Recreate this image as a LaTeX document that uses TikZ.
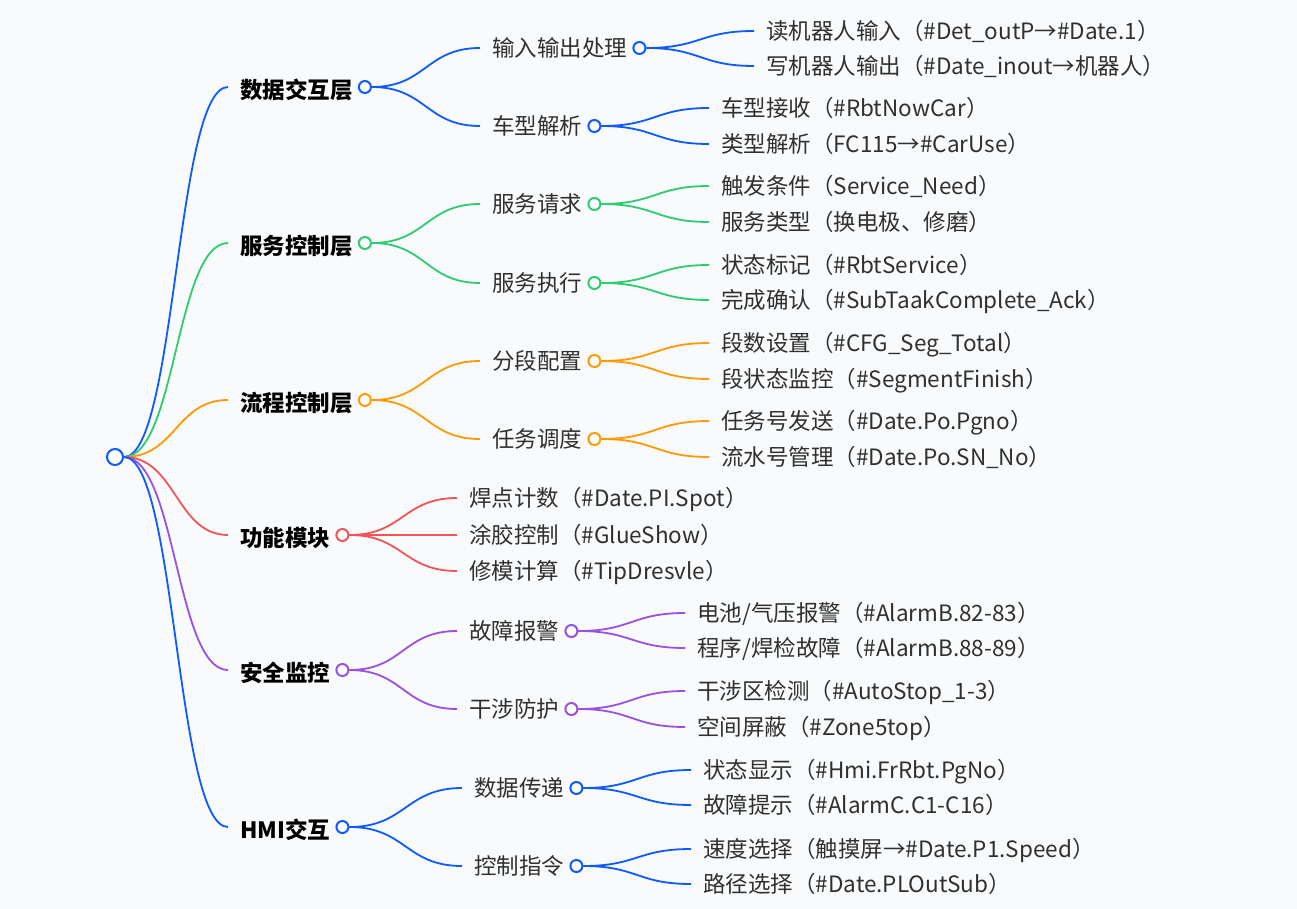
\documentclass[tikz,border=0pt]{standalone}
\usepackage{fontspec}
\setmainfont{Noto Sans CJK SC}
\usepackage{tikz}
\usetikzlibrary{calc}

\definecolor{mblue}{HTML}{0D5BFF}
\definecolor{mgreen}{HTML}{2ECC71}
\definecolor{morange}{HTML}{FF9A05}
\definecolor{mred}{HTML}{F25555}
\definecolor{mpurple}{HTML}{9B51E0}
\definecolor{paper}{HTML}{F8FAFC}
\definecolor{ink}{HTML}{303030}

% S-shaped markmap connector
\newcommand\branch[3]{\draw[link,#1] let \p1=(#2), \p2=(#3) in
    (\p1) .. controls ({(\x1+\x2)/2},\y1) and ({(\x1+\x2)/2},\y2) .. (\p2);}

\begin{document}
\begin{tikzpicture}[
    x=1pt, y=-1pt,
    leaf/.style={anchor=west, font=\fontsize{22.5}{27}\selectfont, text=ink,
        inner xsep=12pt, inner ysep=0pt, text height=19.8pt, text depth=2.7pt},
    head/.style={leaf, font=\fontsize{22.5}{27}\selectfont\bfseries, text=black, text height=25.8pt},
    dot/.style={circle, draw, fill=white, line width=2pt, minimum size=12pt, inner sep=0pt},
    link/.style={line width=1.8pt}
]
    \fill[paper] (0,0) rectangle (1297,909);
    \useasboundingbox (0,0) rectangle (1297,909);

    \node[dot, draw=mblue, minimum size=16pt] (root) at (115,457) {};

    % 数据交互层
    \node[head] (d1) at (228,87) {数据交互层};
    \node[dot, draw=mblue] (d1o) at (d1.east) {};
    \node[leaf] (d1a) at (480,48) {输入输出处理};
    \node[dot, draw=mblue] (d1ao) at (d1a.east) {};
    \node[leaf] (d1a1) at (754,31) {读机器人输入（\#Det\_outP→\#Date.1）};
    \node[leaf] (d1a2) at (754,66) {写机器人输出（\#Date\_inout→机器人）};
    \node[leaf] (d1b) at (480,126) {车型解析};
    \node[dot, draw=mblue] (d1bo) at (d1b.east) {};
    \node[leaf] (d1b1) at (709,108) {车型接收（\#RbtNowCar）};
    \node[leaf] (d1b2) at (709,144) {类型解析（FC115→\#CarUse）};

    % 服务控制层
    \node[head] (d2) at (228,243) {服务控制层};
    \node[dot, draw=mgreen] (d2o) at (d2.east) {};
    \node[leaf] (d2a) at (480,204) {服务请求};
    \node[dot, draw=mgreen] (d2ao) at (d2a.east) {};
    \node[leaf] (d2a1) at (709,186) {触发条件（Service\_Need）};
    \node[leaf] (d2a2) at (709,222) {服务类型（换电极、修磨）};
    \node[leaf] (d2b) at (480,283) {服务执行};
    \node[dot, draw=mgreen] (d2bo) at (d2b.east) {};
    \node[leaf] (d2b1) at (709,265) {状态标记（\#RbtService）};
    \node[leaf] (d2b2) at (709,300) {完成确认（\#SubTaakComplete\_Ack）};

    % 流程控制层
    \node[head] (d3) at (228,400) {流程控制层};
    \node[dot, draw=morange] (d3o) at (d3.east) {};
    \node[leaf] (d3a) at (480,361) {分段配置};
    \node[dot, draw=morange] (d3ao) at (d3a.east) {};
    \node[leaf] (d3a1) at (709,343) {段数设置（\#CFG\_Seg\_Total）};
    \node[leaf] (d3a2) at (709,379) {段状态监控（\#SegmentFinish）};
    \node[leaf] (d3b) at (480,439) {任务调度};
    \node[dot, draw=morange] (d3bo) at (d3b.east) {};
    \node[leaf] (d3b1) at (709,421) {任务号发送（\#Date.Po.Pgno）};
    \node[leaf] (d3b2) at (709,457) {流水号管理（\#Date.Po.SN\_No）};

    % 功能模块
    \node[head] (d4) at (228,535) {功能模块};
    \node[dot, draw=mred] (d4o) at (d4.east) {};
    \node[leaf] (d4a) at (457,498) {焊点计数（\#Date.PI.Spot）};
    \node[leaf] (d4b) at (457,535) {涂胶控制（\#GlueShow）};
    \node[leaf] (d4c) at (457,571) {修模计算（\#TipDresvle）};

    % 安全监控
    \node[head] (d5) at (228,670) {安全监控};
    \node[dot, draw=mpurple] (d5o) at (d5.east) {};
    \node[leaf] (d5a) at (457,631) {故障报警};
    \node[dot, draw=mpurple] (d5ao) at (d5a.east) {};
    \node[leaf] (d5a1) at (685,613) {电池/气压报警（\#AlarmB.82-83）};
    \node[leaf] (d5a2) at (685,648) {程序/焊检故障（\#AlarmB.88-89）};
    \node[leaf] (d5b) at (457,709) {干涉防护};
    \node[dot, draw=mpurple] (d5bo) at (d5b.east) {};
    \node[leaf] (d5b1) at (685,691) {干涉区检测（\#AutoStop\_1-3）};
    \node[leaf] (d5b2) at (685,727) {空间屏蔽（\#Zone5top）};

    % HMI交互
    \node[head] (d6) at (228,827) {HMI交互};
    \node[dot, draw=mblue] (d6o) at (d6.east) {};
    \node[leaf] (d6a) at (462,788) {数据传递};
    \node[dot, draw=mblue] (d6ao) at (d6a.east) {};
    \node[leaf] (d6a1) at (691,770) {状态显示（\#Hmi.FrRbt.PgNo）};
    \node[leaf] (d6a2) at (691,805) {故障提示（\#AlarmC.C1-C16）};
    \node[leaf] (d6b) at (462,866) {控制指令};
    \node[dot, draw=mblue] (d6bo) at (d6b.east) {};
    \node[leaf] (d6b1) at (691,849) {速度选择（触摸屏→\#Date.P1.Speed）};
    \node[leaf] (d6b2) at (691,884) {路径选择（\#Date.PLOutSub）};

    \branch{mblue}{root.east}{d1.west}
    \branch{mgreen}{root.east}{d2.west}
    \branch{morange}{root.east}{d3.west}
    \branch{mred}{root.east}{d4.west}
    \branch{mpurple}{root.east}{d5.west}
    \branch{mblue}{root.east}{d6.west}

    \branch{mblue}{d1o.east}{d1a.west}
    \branch{mblue}{d1o.east}{d1b.west}
    \branch{mblue}{d1ao.east}{d1a1.west}
    \branch{mblue}{d1ao.east}{d1a2.west}
    \branch{mblue}{d1bo.east}{d1b1.west}
    \branch{mblue}{d1bo.east}{d1b2.west}

    \branch{mgreen}{d2o.east}{d2a.west}
    \branch{mgreen}{d2o.east}{d2b.west}
    \branch{mgreen}{d2ao.east}{d2a1.west}
    \branch{mgreen}{d2ao.east}{d2a2.west}
    \branch{mgreen}{d2bo.east}{d2b1.west}
    \branch{mgreen}{d2bo.east}{d2b2.west}

    \branch{morange}{d3o.east}{d3a.west}
    \branch{morange}{d3o.east}{d3b.west}
    \branch{morange}{d3ao.east}{d3a1.west}
    \branch{morange}{d3ao.east}{d3a2.west}
    \branch{morange}{d3bo.east}{d3b1.west}
    \branch{morange}{d3bo.east}{d3b2.west}

    \branch{mred}{d4o.east}{d4a.west}
    \branch{mred}{d4o.east}{d4b.west}
    \branch{mred}{d4o.east}{d4c.west}

    \branch{mpurple}{d5o.east}{d5a.west}
    \branch{mpurple}{d5o.east}{d5b.west}
    \branch{mpurple}{d5ao.east}{d5a1.west}
    \branch{mpurple}{d5ao.east}{d5a2.west}
    \branch{mpurple}{d5bo.east}{d5b1.west}
    \branch{mpurple}{d5bo.east}{d5b2.west}

    \branch{mblue}{d6o.east}{d6a.west}
    \branch{mblue}{d6o.east}{d6b.west}
    \branch{mblue}{d6ao.east}{d6a1.west}
    \branch{mblue}{d6ao.east}{d6a2.west}
    \branch{mblue}{d6bo.east}{d6b1.west}
    \branch{mblue}{d6bo.east}{d6b2.west}
\end{tikzpicture}
\end{document}
